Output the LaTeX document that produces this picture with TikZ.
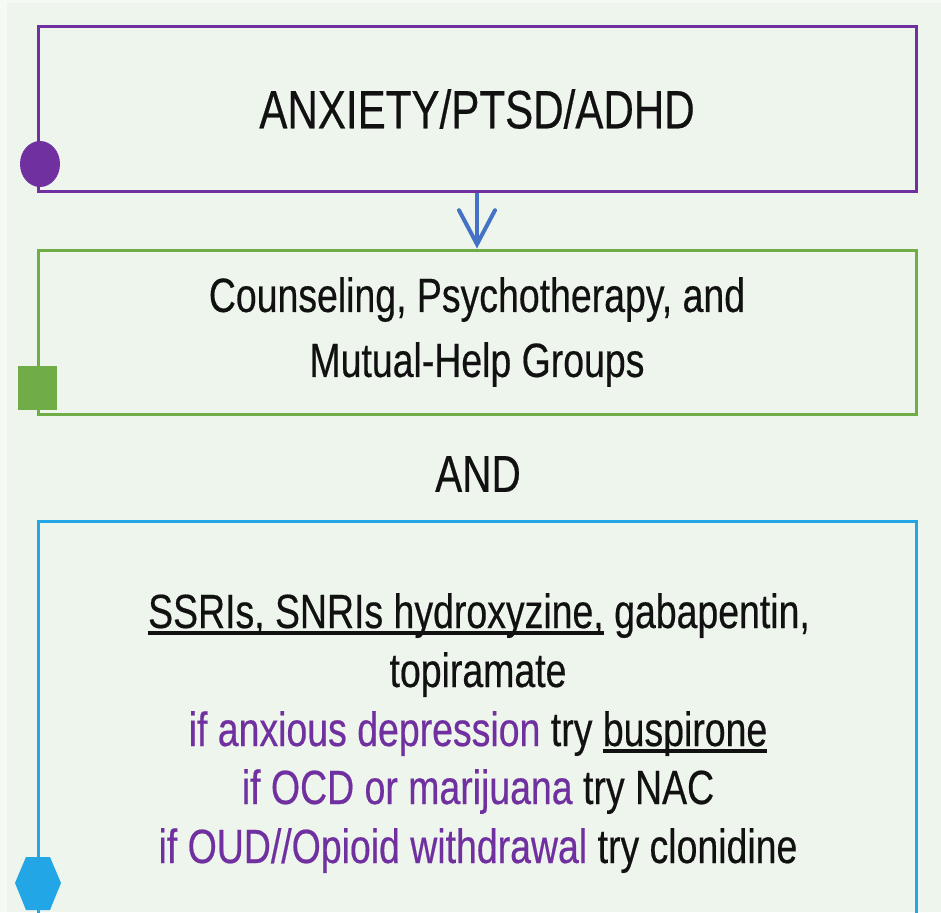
\documentclass[tikz,border=0pt]{standalone}
\usepackage{fontspec}
\setmainfont{Liberation Sans}[FakeStretch=0.78, FakeBold=0.4]
\usetikzlibrary{arrows.meta}
\definecolor{bg}{HTML}{EEF5EC}
\definecolor{bgedge}{HTML}{F6FAF4}
\definecolor{ppl}{HTML}{7030A0}
\definecolor{grn}{HTML}{70AD47}
\definecolor{sky}{HTML}{22A6E6}
\definecolor{arrblue}{HTML}{4472C4}
\definecolor{ink}{HTML}{111111}
\newsavebox{\myulbox}
\newcommand{\myul}[1]{\sbox{\myulbox}{#1}\rlap{\rule[-7pt]{\wd\myulbox}{4pt}}\usebox{\myulbox}}
\tikzset{
  boxbase/.style={rectangle, line width=3pt, minimum width=878pt, inner sep=0pt, text=ink, align=center},
  pbox/.style={boxbase, draw=ppl, minimum height=164pt},
  gbox/.style={boxbase, draw=grn, minimum height=164pt},
  bbox/.style={boxbase, draw=sky, minimum height=479pt},
  txt/.style={inner sep=0pt, text=ink, font=\fontsize{48}{59}\selectfont},
  arr/.style={draw=arrblue, line width=4pt, -{Straight Barb[length=34pt, width=36pt, line width=4pt, line cap=round]}},
}
\begin{document}
\begin{tikzpicture}[x=1pt, y=-1pt]
\useasboundingbox (0,0) rectangle (941,912);
\clip (0,0) rectangle (941,912);
\fill[bg] (0,0) rectangle (941,912);
\fill[bgedge] (0,0) rectangle (7,912);
\fill[bgedge] (0,0) rectangle (941,3);

\node[pbox, font=\fontsize{54}{60}\selectfont] (top) at (477,109) {ANXIETY/PTSD/ADHD};
\node[gbox, font=\fontsize{48}{65}\selectfont] (mid) at (477,332) {Counseling, Psychotherapy, and\\ Mutual-Help Groups};
\draw[arr] (top.south) -- (mid.north);
\node[txt, font=\fontsize{52}{60}\selectfont] (and) at (478,474) {AND};
\node[bbox] (bot) at (477,760.5) {};

\fill[ppl] (40,164) ellipse [x radius=20, y radius=23];
\fill[grn] (18,366) rectangle (57,410);
\fill[sky] (15,883) -- (26,857) -- (50,857) -- (61,883) -- (50,910) -- (26,910) -- cycle;

\node[txt, anchor=base] (l1) at (479,628) {\myul{SSRIs, SNRIs hydroxyzine,} gabapentin,};
\node[txt, anchor=base] (l2) at (478,687) {topiramate};
\node[txt, anchor=base] (l3) at (478,746) {\textcolor{ppl}{if anxious depression} try \myul{buspirone}};
\node[txt, anchor=base] (l4) at (478,804) {\textcolor{ppl}{if OCD or marijuana} try NAC};
\node[txt, anchor=base] (l5) at (478,863) {\textcolor{ppl}{if OUD//Opioid withdrawal} try clonidine};
\end{tikzpicture}
\end{document}
